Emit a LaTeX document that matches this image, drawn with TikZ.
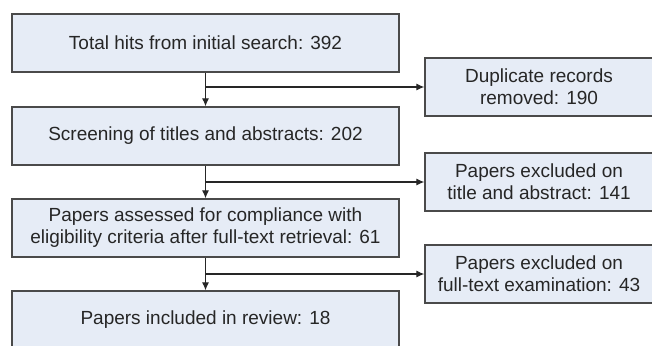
\documentclass[tikz,border=0pt]{standalone}
\usepackage{fontspec}
\setmainfont{Liberation Sans}
\usetikzlibrary{arrows.meta}
\definecolor{boxfill}{HTML}{E6ECF6}
\definecolor{boxline}{HTML}{4A4A4A}
\definecolor{boxtext}{HTML}{262626}
\tikzset{
  stage/.style={draw=boxline, fill=boxfill, line width=1.3pt, align=center,
    inner sep=0pt, minimum height=58pt, font=\fontsize{19}{22}\selectfont, text=boxtext},
  mainbox/.style={stage, minimum width=387pt},
  sidebox/.style={stage, minimum width=228pt},
  flow/.style={line width=1.2pt, draw=boxtext, -{Latex[length=8pt,width=7pt]}}
}
\begin{document}
\begin{tikzpicture}[x=1pt,y=-1pt]
    \useasboundingbox (0,0) rectangle (652,345);
    \clip (0,0) rectangle (652,345);

    % Main column
    \node[mainbox] (hits) at (205.5,43) {Total hits from initial search: 392};
    \node[mainbox] (screen) at (205.5,136) {Screening of titles and abstracts: 202};
    \node[mainbox] (assess) at (205.5,228) {Papers assessed for compliance with\\eligibility criteria after full-text retrieval: 61};
    \node[mainbox] (incl) at (205.5,320) {Papers included in review: 18};

    % Exclusions
    \node[sidebox] (dup) at (539,87) {Duplicate records\\removed: 190};
    \node[sidebox] (exta) at (539,182) {Papers excluded on\\title and abstract: 141};
    \node[sidebox] (exft) at (539,274) {Papers excluded on\\full-text examination: 43};

    % Arrows
    \draw[flow] (hits) -- (screen);
    \draw[flow] (screen) -- (assess);
    \draw[flow] (assess) -- (incl);
    \draw[flow] (hits.south |- dup.west) -- (dup.west);
    \draw[flow] (screen.south |- exta.west) -- (exta.west);
    \draw[flow] (assess.south |- exft.west) -- (exft.west);
\end{tikzpicture}
\end{document}
